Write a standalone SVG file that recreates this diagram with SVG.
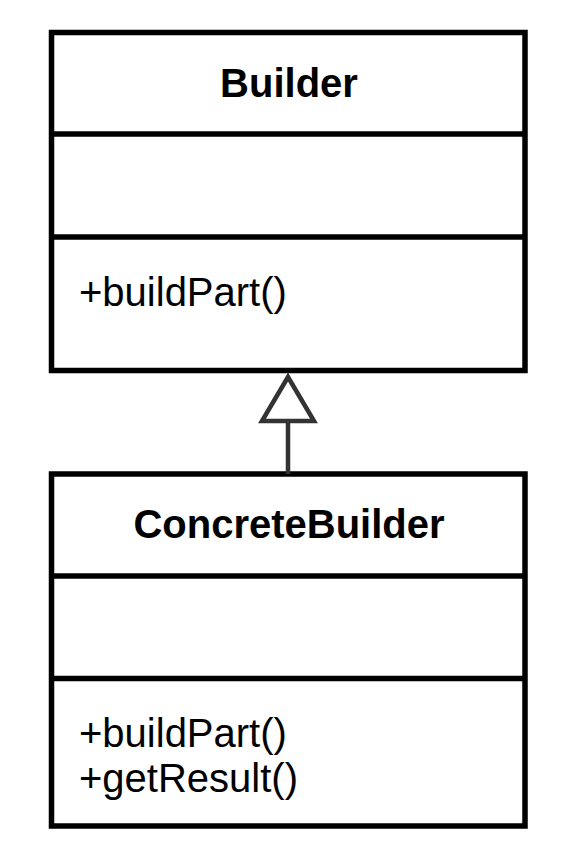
<svg xmlns="http://www.w3.org/2000/svg" width="586" height="868" viewBox="0 0 586 868">
  <style>
    .box { fill: #ffffff; stroke: #000000; stroke-width: 5.5; }
    .div { stroke: #000000; stroke-width: 5.5; }
    .name { font-family: "Liberation Sans", Arial, sans-serif; font-size: 40px; font-weight: bold; fill: #000000; text-anchor: middle; }
    .op { font-family: "Liberation Sans", Arial, sans-serif; font-size: 40px; fill: #000000; }
    .edge { stroke: #333333; stroke-width: 4.5; fill: none; }
    .head { stroke: #333333; stroke-width: 4.5; fill: #ffffff; stroke-linejoin: miter; }
  </style>
  <rect width="586" height="868" fill="#ffffff"/>

  <!-- Builder class -->
  <g id="builder">
    <rect class="box" x="51.5" y="32.5" width="473.5" height="338"/>
    <line class="div" x1="51.5" y1="134" x2="525" y2="134"/>
    <line class="div" x1="51.5" y1="237" x2="525" y2="237"/>
    <text class="name" x="289" y="97">Builder</text>
    <text class="op" x="79" y="306">+buildPart()</text>
  </g>

  <!-- ConcreteBuilder class -->
  <g id="concrete-builder">
    <rect class="box" x="51.5" y="474" width="473.5" height="352"/>
    <line class="div" x1="51.5" y1="576" x2="525" y2="576"/>
    <line class="div" x1="51.5" y1="678.5" x2="525" y2="678.5"/>
    <text class="name" x="289" y="538">ConcreteBuilder</text>
    <text class="op" x="79" y="747">+buildPart()</text>
    <text class="op" x="79" y="792">+getResult()</text>
  </g>

  <!-- generalization: ConcreteBuilder extends Builder -->
  <g id="connectors">
    <line class="edge" x1="288" y1="474" x2="288" y2="421"/>
    <polygon class="head" points="288,377 262,421 314,421"/>
  </g>
</svg>
